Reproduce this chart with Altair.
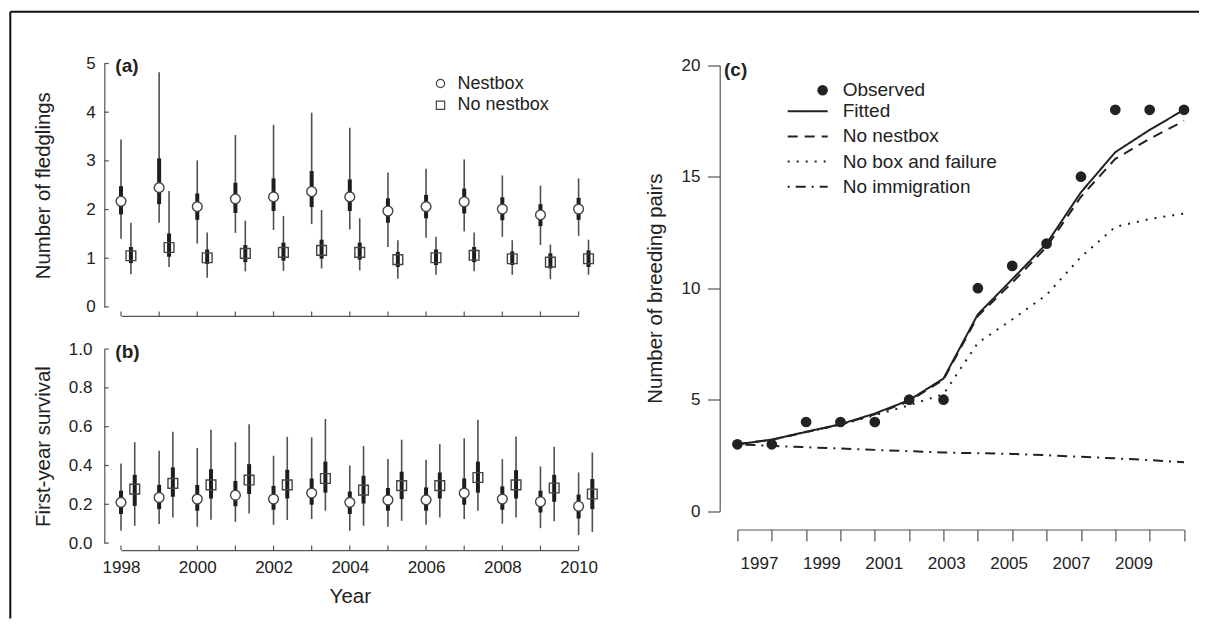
import altair as alt
import pandas as pd

# ---------------- data ----------------
years_ab = list(range(1998, 2011))
ab_label_years = [1998, 2000, 2002, 2004, 2006, 2008, 2010]

# (a) number of fledglings
a_nest_mean = [2.17, 2.45, 2.06, 2.22, 2.26, 2.37, 2.26, 1.97, 2.06, 2.16, 2.01, 1.89, 2.01]
a_nest_q25 = [1.90, 2.11, 1.79, 1.93, 1.97, 2.05, 1.97, 1.73, 1.82, 1.92, 1.78, 1.66, 1.79]
a_nest_q75 = [2.48, 3.05, 2.33, 2.55, 2.64, 2.79, 2.62, 2.23, 2.30, 2.43, 2.25, 2.11, 2.24]
a_nest_lo = [1.40, 1.73, 1.30, 1.52, 1.58, 1.70, 1.59, 1.23, 1.42, 1.55, 1.44, 1.27, 1.46]
a_nest_hi = [3.44, 4.82, 3.01, 3.53, 3.74, 3.99, 3.68, 2.76, 2.84, 3.03, 2.70, 2.49, 2.64]

a_none_mean = [1.05, 1.22, 1.01, 1.10, 1.12, 1.16, 1.12, 0.97, 1.01, 1.06, 0.99, 0.92, 0.99]
a_none_q25 = [0.90, 1.03, 0.88, 0.92, 0.95, 0.99, 0.97, 0.82, 0.86, 0.92, 0.86, 0.79, 0.82]
a_none_q75 = [1.23, 1.51, 1.18, 1.27, 1.32, 1.38, 1.32, 1.13, 1.18, 1.23, 1.14, 1.10, 1.16]
a_none_lo = [0.67, 0.82, 0.60, 0.73, 0.74, 0.79, 0.75, 0.58, 0.66, 0.73, 0.66, 0.57, 0.66]
a_none_hi = [1.73, 2.38, 1.53, 1.77, 1.87, 1.99, 1.82, 1.37, 1.44, 1.53, 1.37, 1.28, 1.38]
a_ticks = [0, 1, 2, 3, 4, 5]

# (b) first-year survival
b_nest_mean = [0.210, 0.235, 0.227, 0.247, 0.227, 0.258, 0.210, 0.222, 0.223, 0.258, 0.227, 0.213, 0.190]
b_nest_q25 = [0.150, 0.175, 0.167, 0.190, 0.172, 0.198, 0.150, 0.167, 0.167, 0.198, 0.172, 0.158, 0.127]
b_nest_q75 = [0.270, 0.300, 0.300, 0.320, 0.295, 0.333, 0.266, 0.284, 0.287, 0.333, 0.292, 0.270, 0.250]
b_nest_lo = [0.064, 0.098, 0.084, 0.110, 0.094, 0.124, 0.064, 0.084, 0.094, 0.124, 0.100, 0.077, 0.041]
b_nest_hi = [0.410, 0.476, 0.490, 0.520, 0.450, 0.545, 0.400, 0.433, 0.430, 0.540, 0.433, 0.395, 0.364]

b_none_mean = [0.278, 0.308, 0.300, 0.325, 0.300, 0.333, 0.273, 0.296, 0.296, 0.338, 0.300, 0.284, 0.253]
b_none_q25 = [0.192, 0.239, 0.230, 0.253, 0.230, 0.260, 0.204, 0.227, 0.230, 0.260, 0.230, 0.213, 0.175]
b_none_q75 = [0.352, 0.390, 0.381, 0.407, 0.378, 0.420, 0.347, 0.368, 0.364, 0.420, 0.376, 0.352, 0.330]
b_none_lo = [0.089, 0.132, 0.120, 0.153, 0.119, 0.167, 0.089, 0.115, 0.132, 0.167, 0.132, 0.112, 0.058]
b_none_hi = [0.520, 0.574, 0.584, 0.613, 0.548, 0.640, 0.500, 0.533, 0.510, 0.636, 0.550, 0.497, 0.467]
b_ticks = [0.0, 0.2, 0.4, 0.6, 0.8, 1.0]

# (c) number of breeding pairs
years_c = list(range(1997, 2011))
c_label_years = [1997, 1999, 2001, 2003, 2005, 2007, 2009]
c_observed = [3, 3, 4, 4, 4, 5, 5, 10, 11, 12, 15, 18, 18, 18]
c_fitted = [3.0, 3.21, 3.56, 3.9, 4.38, 4.98, 5.95, 8.83, 10.4, 12.0, 14.3, 16.1, 17.1, 18.0]
c_no_nestbox = [3.0, 3.2, 3.55, 3.88, 4.35, 4.93, 5.9, 8.75, 10.25, 11.85, 14.1, 15.8, 16.7, 17.5]
c_no_box_fail = [3.0, 3.2, 3.55, 3.88, 4.3, 4.75, 5.25, 7.55, 8.6, 9.7, 11.4, 12.75, 13.1, 13.35]
c_no_immig = [3.0, 2.93, 2.87, 2.81, 2.75, 2.69, 2.63, 2.6, 2.57, 2.51, 2.44, 2.37, 2.29, 2.2]
c_ticks = [0, 5, 10, 15, 20]
series_names = ["Fitted", "No nestbox", "No box and failure", "No immigration"]
groups = ["Nestbox", "No nestbox"]

# ---------------- style ----------------
FONT = "Liberation Sans"
TXT = "#222222"
AXC = "#555555"
THIN = "#505050"
THICK = "#1e1e1e"
PT = "#444444"


def ab_frame(nm, n25, n75, nlo, nhi, om, o25, o75, olo, ohi, shift):
    rows = []
    for i, yr in enumerate(years_ab):
        rows.append(dict(group=groups[0], x=float(yr), mean=nm[i], q25=n25[i], q75=n75[i], lo=nlo[i], hi=nhi[i]))
        rows.append(dict(group=groups[1], x=yr + shift, mean=om[i], q25=o25[i], q75=o75[i], lo=olo[i], hi=ohi[i]))
    return pd.DataFrame(rows)


def ab_panel(df, W, H, yticks, yfmt, ytitle, title_pad, lab_pad, x_off, bottom, label, legend, extra=()):
    xs = alt.Scale(domain=[1998, 2010], nice=False, zero=False)
    ys = alt.Scale(domain=[yticks[0], yticks[-1]], nice=False, zero=False)
    if bottom:
        xaxis = alt.Axis(values=ab_label_years, format="d", ticks=False, tickSize=0, offset=x_off,
                         labelPadding=9.7, labelFlush=False, labelOverlap=False, title="Year",
                         titlePadding=11, titleFontSize=20.5, grid=False)
    else:
        xaxis = alt.Axis(labels=False, ticks=False, tickSize=0, offset=x_off, title=None, grid=False)
    yaxis = alt.Axis(values=yticks, format=yfmt, ticks=False, tickSize=0, offset=16.7,
                     labelPadding=lab_pad, title=ytitle, titlePadding=title_pad, labelOverlap=False,
                     grid=False)
    thin = alt.Chart(df).mark_rule(color=THIN, strokeWidth=1.6).encode(
        x=alt.X("x:Q", scale=xs, axis=xaxis),
        y=alt.Y("lo:Q", scale=ys, axis=yaxis), y2="hi:Q")
    thick = alt.Chart(df).mark_rule(color=THICK, strokeWidth=4).encode(
        x=alt.X("x:Q", axis=xaxis), y=alt.Y("q25:Q", axis=yaxis), y2="q75:Q")
    pts = alt.Chart(df).mark_point(filled=False, color=PT, strokeWidth=1.4,
                                   size=95, opacity=1).encode(
        x=alt.X("x:Q", axis=xaxis), y=alt.Y("mean:Q", axis=yaxis),
        shape=alt.Shape("group:N", scale=alt.Scale(domain=groups, range=["circle", "square"]),
                        legend=legend),
        fill=alt.Fill("group:N", scale=alt.Scale(domain=groups, range=["white", "transparent"]),
                      legend=None))
    xt = alt.Chart(pd.DataFrame({"x": years_ab})).mark_rule(color=AXC, strokeWidth=1.2).encode(
        x=alt.X("x:Q", axis=xaxis), y=alt.value(H + x_off), y2=alt.value(H + x_off - 4.5))
    yt = alt.Chart(pd.DataFrame({"v": yticks})).mark_rule(color=AXC, strokeWidth=1.2).encode(
        y=alt.Y("v:Q", axis=yaxis), x=alt.value(-16.7), x2=alt.value(-12.2))
    lab = alt.Chart(pd.DataFrame({"t": [label]})).mark_text(
        align="left", baseline="alphabetic", fontWeight="bold", fontSize=19, font=FONT, color=TXT
    ).encode(x=alt.value(-5.7), y=alt.value(8.4), text="t:N")
    return alt.layer(thin, thick, pts, xt, yt, lab, *extra).properties(width=W, height=H)


Wab = 457.6
Ha = 243.4
Hb = 194.0

df_a = ab_frame(a_nest_mean, a_nest_q25, a_nest_q75, a_nest_lo, a_nest_hi,
                a_none_mean, a_none_q25, a_none_q75, a_none_lo, a_none_hi, 0.26)
df_b = ab_frame(b_nest_mean, b_nest_q25, b_nest_q75, b_nest_lo, b_nest_hi,
                b_none_mean, b_none_q25, b_none_q75, b_none_lo, b_none_hi, 0.36)

legend_a = alt.Legend(orient="none", legendX=310.5, legendY=10, title=None, symbolSize=69,
                      symbolFillColor="white", symbolStrokeColor=PT, symbolStrokeWidth=1.2,
                      labelFontSize=18, labelFont=FONT, labelColor=TXT, labelOffset=8.1,
                      clipHeight=20, rowPadding=1.7, padding=0)

one = pd.DataFrame({"k": [0]})
border_left = alt.Chart(one).mark_rule(color="#111111", strokeWidth=2).encode(
    x=alt.value(-110.7), y=alt.value(-51.8), y2=alt.value(555))
border_top = alt.Chart(one).mark_rule(color="#111111", strokeWidth=2).encode(
    x=alt.value(-110.7), x2=alt.value(1078), y=alt.value(-51.8))

panel_a = ab_panel(df_a, Wab, Ha, a_ticks, "d", "Number of fledglings", 32, 9, 9, False, "(a)",
                   legend_a, extra=(border_left, border_top))
panel_b = ab_panel(df_b, Wab, Hb, b_ticks, ".1f", "First-year survival", 14.5, 12.3, 7, True, "(b)",
                   None)

# ---------------- panel (c) ----------------
Wc = 446.6
Hc = Ha  # nominal cell height; the y range reaches further down
c_bottom = 447.7
x_off_c = c_bottom - Hc + 18.3
xc = alt.Scale(domain=[1997, 2010], nice=False, zero=False)
yc = alt.Scale(domain=[0, 20], range=[c_bottom, 1.7], nice=False, zero=False)
xaxis_c = alt.Axis(values=years_c, labels=False, ticks=True, tickSize=11.4, offset=x_off_c,
                   title=None, grid=False)
yaxis_c = alt.Axis(values=c_ticks, tickSize=12.3, offset=17.7, labelPadding=7.5,
                   title="Number of breeding pairs", titlePadding=15, grid=False)

rows = []
for name, vals in zip(series_names, [c_fitted, c_no_nestbox, c_no_box_fail, c_no_immig]):
    for yr, v in zip(years_c, vals):
        rows.append(dict(year=yr, series=name, value=v))
lines_df = pd.DataFrame(rows)
obs_df = pd.DataFrame({"year": years_c, "observed": c_observed, "kind": ["Observed"] * len(years_c)})

lines = alt.Chart(lines_df).mark_line(color="#222222", strokeWidth=2).encode(
    x=alt.X("year:Q", scale=xc, axis=xaxis_c),
    y=alt.Y("value:Q", scale=yc, axis=yaxis_c),
    strokeDash=alt.StrokeDash("series:N",
                              scale=alt.Scale(domain=series_names,
                                              range=[[1, 0], [10, 7], [2, 7], [2, 6, 10, 6]]),
                              legend=alt.Legend(orient="none", legendX=49.3, legendY=36.2, title=None,
                                                symbolType="stroke", symbolSize=1600,
                                                symbolStrokeWidth=2, symbolStrokeColor="#222222",
                                                labelFontSize=19, labelFont=FONT, labelColor=TXT,
                                                labelOffset=14, clipHeight=23, rowPadding=2.2,
                                                padding=0)),
    order="year:Q",
)
obs = alt.Chart(obs_df).mark_point(filled=True, color="#222222", size=115, opacity=1).encode(
    x=alt.X("year:Q", scale=xc, axis=xaxis_c),
    y=alt.Y("observed:Q", scale=yc, axis=yaxis_c),
    shape=alt.Shape("kind:N", scale=alt.Scale(domain=["Observed"], range=["circle"]),
                    legend=alt.Legend(orient="none", legendX=75.7, legendY=15.2, title=None,
                                      symbolSize=110, symbolFillColor="#222222", symbolStrokeWidth=0,
                                      labelFontSize=19, labelFont=FONT, labelColor=TXT,
                                      labelOffset=10.6, clipHeight=23, padding=0)),
)
lab_c = alt.Chart(pd.DataFrame({"t": ["(c)"]})).mark_text(
    align="left", baseline="alphabetic", fontWeight="bold", fontSize=19, font=FONT, color=TXT
).encode(x=alt.value(-13.4), y=alt.value(12.2), text="t:N")

year_labels = alt.Chart(pd.DataFrame({"yr": c_label_years})).mark_text(opacity=0, text="").encode(
    x=alt.X("yr:Q", scale=alt.Scale(domain=[1996.31, 2010.62], nice=False, zero=False),
            axis=alt.Axis(orient="bottom", values=c_label_years, format="d", domain=False, ticks=False,
                          tickSize=0, labelPadding=26, offset=x_off_c, title=None,
                          labelFlush=False, labelOverlap=False, grid=False)))

panel_c = alt.layer(alt.layer(lines, obs, lab_c), year_labels).resolve_scale(
    x="independent").properties(width=Wc, height=Hc)

chart = alt.concat(panel_a, panel_c, panel_b, columns=2,
                   spacing={"row": 41.6, "column": 158.4}, bounds="flush").resolve_scale(
    shape="independent", strokeDash="independent", fill="independent"
).resolve_legend(
    shape="independent", strokeDash="independent", fill="independent"
).properties(
    padding={"left": 1, "top": 2.5, "right": 0, "bottom": 0}
).configure_view(stroke=None).configure_axis(
    labelFont=FONT, titleFont=FONT, labelColor=TXT, titleColor=TXT, domainColor=AXC,
    tickColor=AXC, grid=False, titleFontWeight="normal", labelFontSize=17, titleFontSize=20.4,
    domainWidth=1.2, tickWidth=1.2
).configure_legend(labelFont=FONT, labelColor=TXT)

chart.save("out.html", embed_options={"renderer": "svg", "actions": False})
